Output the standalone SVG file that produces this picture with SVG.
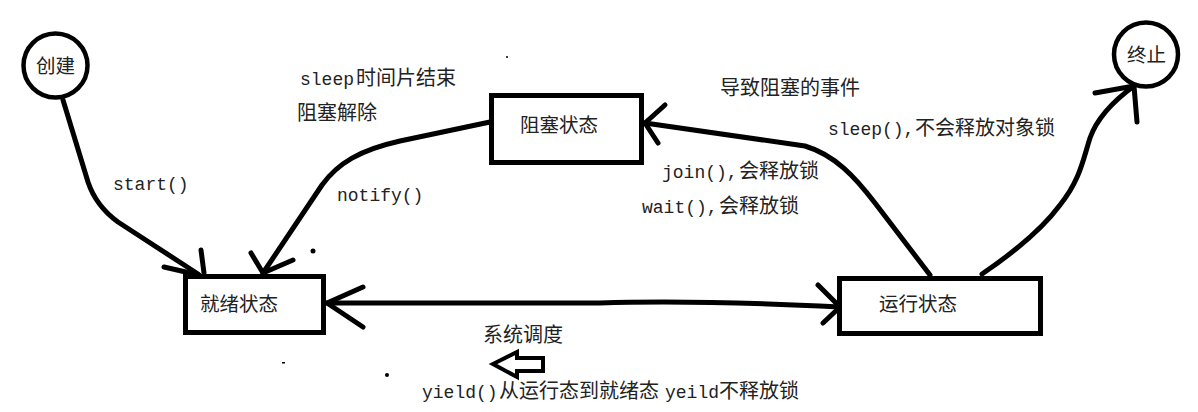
<svg xmlns="http://www.w3.org/2000/svg" width="1198" height="412" viewBox="0 0 1198 412">
<style>
.ln{fill:none;stroke:#000;stroke-width:5;stroke-linecap:round;stroke-linejoin:round}
.box{fill:#fff;stroke:#000;stroke-width:5}
.circ{fill:#fff;stroke:#000;stroke-width:4.5}
.t{fill:#222;font-family:"Noto Sans CJK SC",sans-serif;font-size:19.5px}
.m{font-family:"Liberation Mono","DejaVu Sans Mono",monospace;font-size:18px}
.c{font-family:"Noto Sans CJK SC",sans-serif;font-size:20px}
</style>
<rect width="1198" height="412" fill="#fff"/>
<g id="connectors">
<path class="ln" d="M63,100 L88,182 Q96,206 118,222 L198,274"/>
<path class="ln" d="M201,250 L204,273 M164,267 L199,275"/>
<path class="ln" d="M490,122 L400,141 C360,150 338,163 322,185 L263,273"/>
<path class="ln" d="M251,253 L263,273 L293,260"/>
<path class="ln" d="M930,275 L875,203 C855,177 835,155 805,146 L645,123"/>
<path class="ln" d="M665,105 L645,123 L658,143"/>
<path class="ln" d="M982,274 C1010,255 1040,232 1060,205 C1080,180 1083,160 1090,138 C1097,118 1112,102 1134,86"/>
<path class="ln" d="M1095,93 L1134,86 L1137,122"/>
<path class="ln" d="M327,303 L600,303 C680,300 760,303 840,307"/>
<path class="ln" d="M363,287 L327,303 L363,327 M818,285 L840,307 L823,323"/>
<polygon points="493,364 517,352 517,358 543,358 543,371 517,371 517,377" fill="#fff" stroke="#000" stroke-width="4" stroke-linejoin="miter"/>
</g>
<g id="node-create">
<circle class="circ" cx="55.5" cy="65.5" r="32"/>
<text class="t" x="36" y="73">创建</text>
</g>
<g id="node-terminate">
<circle class="circ" cx="1146" cy="54.5" r="32"/>
<text class="t" x="1127" y="62">终止</text>
</g>
<g id="node-ready">
<rect class="box" x="185.5" y="276.5" width="138" height="56"/>
<text class="t" x="200" y="311">就绪状态</text>
</g>
<g id="node-blocked">
<rect class="box" x="491.5" y="95.5" width="150" height="67"/>
<text class="t" x="520" y="132">阻塞状态</text>
</g>
<g id="node-running">
<rect class="box" x="839.5" y="278.5" width="201" height="55"/>
<text class="t" x="879" y="311">运行状态</text>
</g>
<g id="labels">
<text class="t" y="85"><tspan class="m" x="300">sleep</tspan><tspan class="c" x="356">时间片结束</tspan></text>
<text class="t c" x="297" y="120">阻塞解除</text>
<text class="t m" x="113" y="190">start()</text>
<text class="t m" x="337" y="201">notify()</text>
<text class="t c" x="720" y="95">导致阻塞的事件</text>
<text class="t" y="135"><tspan class="m" x="828">sleep(),</tspan><tspan class="c" x="915">不会释放对象锁</tspan></text>
<text class="t" y="178"><tspan class="m" x="662">join(),</tspan><tspan class="c" x="739">会释放锁</tspan></text>
<text class="t" y="213"><tspan class="m" x="642">wait(),</tspan><tspan class="c" x="719">会释放锁</tspan></text>
<text class="t c" x="483" y="342">系统调度</text>
<text class="t" y="398"><tspan class="m" x="422">yield()</tspan><tspan class="c" x="499">从运行态到就绪态</tspan><tspan class="m" x="665">yeild</tspan><tspan class="c" x="719">不释放锁</tspan></text>
</g>
<g id="specks" fill="#000">
<circle cx="313" cy="251" r="2.5"/>
<circle cx="507" cy="57" r="1"/>
<rect x="282" y="362" width="3" height="1.5"/>
<circle cx="387" cy="375" r="2"/>
</g>
</svg>
